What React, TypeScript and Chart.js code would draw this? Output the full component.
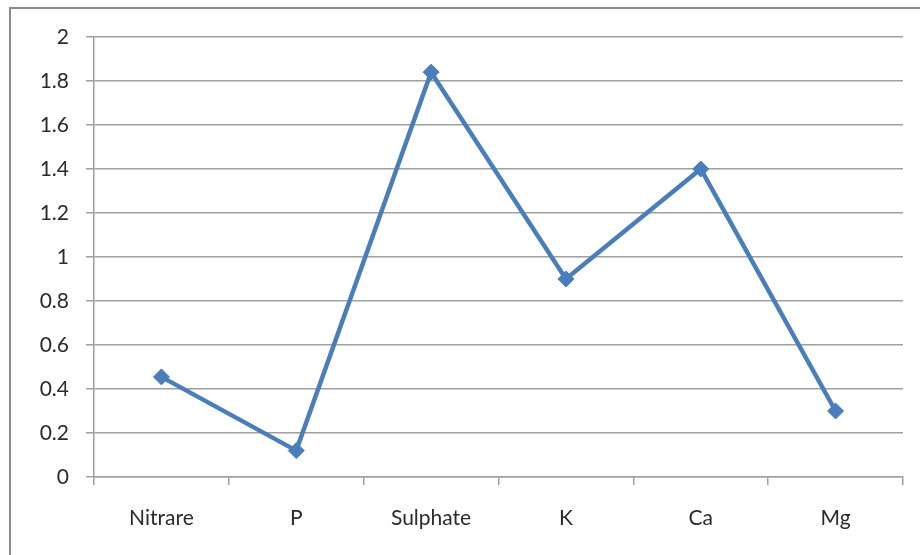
import React, { useEffect, useRef } from "react";
import { Chart, registerables } from "chart.js";

Chart.register(...registerables);

const categories = ["Nitrare", "P", "Sulphate", "K", "Ca", "Mg"];
const values = [0.455, 0.12, 1.84, 0.9, 1.4, 0.3];
const yMin = 0;
const yMax = 2;
const yStep = 0.2;

const W = 920;
const H = 555;

const framePlugin = {
  id: "frame",
  beforeDraw(chart: any) {
    const ctx = chart.ctx;
    ctx.save();
    ctx.fillStyle = "#ffffff";
    ctx.fillRect(0, 0, chart.width, chart.height);
    ctx.strokeStyle = "#8c8c8c";
    ctx.lineWidth = 2;
    ctx.strokeRect(10, 8, chart.width + 40, chart.height + 40);
    ctx.restore();
  },
};

export default function App() {
  const ref = useRef<HTMLCanvasElement | null>(null);
  useEffect(() => {
    if (!ref.current) return;
    const font = { family: "Lato, 'Open Sans', sans-serif", size: 21 };
    const chart = new Chart(ref.current, {
      type: "line",
      data: {
        labels: categories,
        datasets: [
          {
            data: values,
            borderColor: "#4a7ebb",
            backgroundColor: "#4a7ebb",
            borderWidth: 4.5,
            pointStyle: "rectRot",
            pointRadius: 8,
            pointBorderWidth: 1,
            pointBackgroundColor: "#4a7ebb",
            pointBorderColor: "#4a7ebb",
            tension: 0,
          },
        ],
      },
      options: {
        animation: false,
        responsive: false,
        devicePixelRatio: 1,
        layout: { padding: { top: 37, right: 17, bottom: 0, left: 0 } },
        plugins: { legend: { display: false }, tooltip: { enabled: false } },
        scales: {
          x: {
            type: "category",
            offset: true,
            grid: {
              offset: true,
              drawOnChartArea: false,
              drawTicks: true,
              tickLength: 8,
              color: "#a0a0a0",
              lineWidth: 1.5,
            },
            border: { display: true, color: "#a0a0a0", width: 1.5 },
            ticks: { font, color: "#2b2b2b", padding: 21, maxRotation: 0 },
            afterFit(scale: any) {
              scale.height = H - 477;
            },
          },
          y: {
            min: yMin,
            max: yMax,
            grid: {
              color: "#a0a0a0",
              lineWidth: 1.5,
              drawTicks: true,
              tickLength: 8,
            },
            border: { display: true, color: "#a0a0a0", width: 1.5 },
            ticks: {
              stepSize: yStep,
              font,
              color: "#2b2b2b",
              padding: 17,
              callback: (v: any) => String(Math.round(Number(v) * 10) / 10),
            },
            afterFit(scale: any) {
              scale.width = 94;
            },
          },
        },
      },
      plugins: [framePlugin],
    } as any);
    return () => chart.destroy();
  }, []);
  return (
    <div style={{ position: "fixed", left: 0, top: 0, width: W, height: H }}>
      <canvas ref={ref} width={W} height={H} style={{ width: W, height: H, display: "block" }} />
    </div>
  );
}
